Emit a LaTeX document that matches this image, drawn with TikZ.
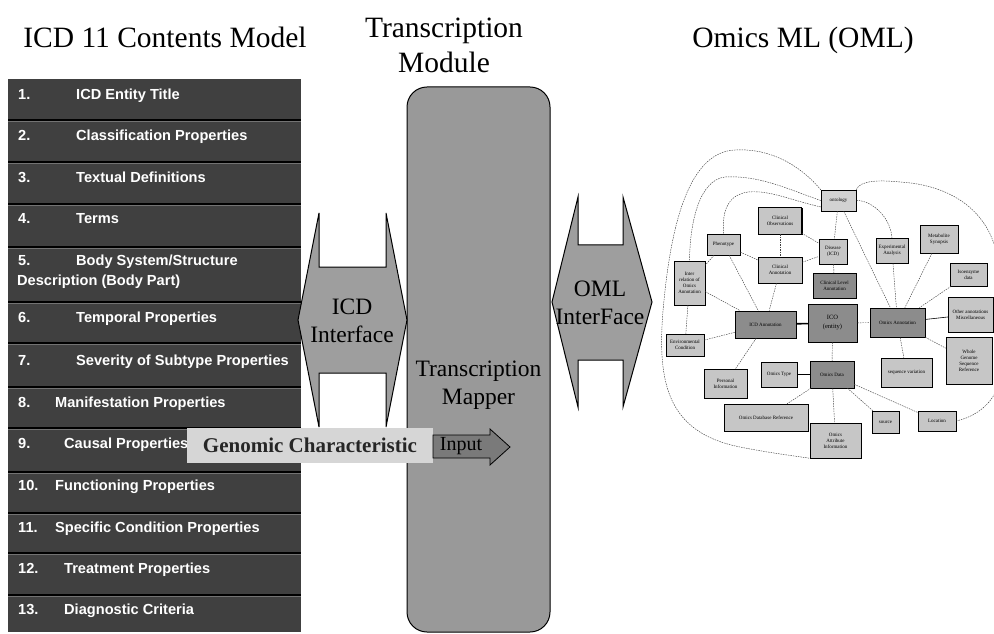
\documentclass[tikz,border=0pt]{standalone}
\usepackage{fontspec}
\setmainfont{Liberation Serif}
\newfontfamily\arialf{Liberation Sans}
\usetikzlibrary{shadows,fit,calc}
\begin{document}
\begin{tikzpicture}[x=1bp,y=-1bp,
  title/.style={font=\fontsize{29.5bp}{35bp}\selectfont, align=center, inner sep=0},
  itm/.style={anchor=base west, text=white, font=\arialf\bfseries\fontsize{14.6bp}{17bp}\selectfont, inner sep=0},
  sep/.style={draw=black, line width=2bp},
  bigtxt/.style={font=\fontsize{23.5bp}{28bp}\selectfont, align=center, inner sep=0},
  arrshape/.style={fill=black!38, draw=black, line width=1bp},
  nb/.style={draw=black, line width=0.5bp, fill=gray!45, font=\fontsize{5bp}{6bp}\selectfont, align=center, inner sep=0.5bp,
     drop shadow={shadow xshift=1.2bp, shadow yshift=-1.2bp, opacity=1, fill=black}},
  nd/.style={nb, fill=gray!90},
  frm/.style={draw=black, densely dotted, line width=0.6bp, inner sep=3.5bp, fill=white},
  cn/.style={draw=black!75, line width=0.45bp, dash pattern=on 1.5bp off 1bp},
  cs/.style={draw=black, line width=0.8bp}
]
\useasboundingbox (0,0) rectangle (994,634);

% titles
\node[title] (t1) at (165,37) {ICD 11 Contents Model};
\node[title] (t2) at (444,45) {Transcription\\Module};
\node[title] (t3) at (803,40) {Omics ML (OML)};

% ICD content column
\fill[black!75] (8,79) rectangle (301,632);
\foreach \y in {120,162,204,247,302,343,387,428,472,513,553,595}{
  \draw[black!55, line width=0.8bp] (8,\y+1.6) -- (301,\y+1.6);
  \draw[sep] (8,\y) -- (301,\y);
}
\foreach \i/\y/\tx/\t in {1/100/76/ICD Entity Title, 2/141/76/Classification Properties,
   3/183/76/Textual Definitions, 4/224/76/Terms, 6/322/76/Temporal Properties,
   7/365/76/Severity of Subtype Properties, 8/407/55/Manifestation Properties,
   9/448/64/Causal Properties, 10/490/55/Functioning Properties,
   11/532/55/Specific Condition Properties, 12/573/64/Treatment Properties,
   13/614/64/Diagnostic Criteria}{
  \node[itm] (num\i) at (18,\y) {\i.};
  \node[itm] (row\i) at (\tx,\y) {\t};
}
\node[itm] (num5) at (18,266) {5.};
\node[itm] (row5) at (76,266) {Body System/Structure};
\node[itm] (row5b) at (17,286) {Description (Body Part)};

% transcription mapper
\node[draw=black, line width=1bp, fill=black!40, rounded corners=20bp,
      minimum width=143bp, minimum height=545bp, inner sep=0] (map) at (478.5,359.5) {};
\node[bigtxt] (maptxt) at (478.5,385.5) {Transcription\\Mapper};

% ICD interface double arrow
\filldraw[arrshape] (298,320) -- (319,213) -- (319,267) -- (386,267) -- (386,213) -- (407,320)
   -- (386,427) -- (386,373) -- (319,373) -- (319,427) -- cycle;
\node[bigtxt] (icdi) at (352,321) {ICD\\Interface};

% OML interface double arrow
\filldraw[arrshape] (552,302) -- (578,197) -- (578,245) -- (623,245) -- (623,197) -- (652,302)
   -- (623,407) -- (623,360) -- (578,360) -- (578,407) -- cycle;
\node[bigtxt] (omli) at (600,303) {OML\\InterFace};

% genomic characteristic + input
\node[fill=black!16, minimum width=246bp, minimum height=35bp, inner sep=0,
      font=\bfseries\fontsize{21bp}{24bp}\selectfont, text=black!85] (gen) at (310,445.5) {Genomic Characteristic};
\filldraw[fill=black!52, draw=black, line width=0.8bp] (433,435) -- (490,435) -- (490,429) -- (510,447)
   -- (490,465) -- (490,458) -- (433,458) -- cycle;
\node[font=\fontsize{20bp}{24bp}\selectfont, inner sep=0] (inp) at (461,446) {Input};

% ---------------- Omics ML network ----------------
\node[nb, fill=gray!35, minimum width=35bp, minimum height=21bp] (top) at (838.5,200.5) {ontology};
\node[nb, minimum width=43bp, minimum height=27bp] (clobs) at (780,220.5) {Clinical\\Observations};
\node[nb, minimum width=33bp, minimum height=21bp] (pheno) at (723.5,244.5) {Phenotype};
\node[nb, minimum width=44bp, minimum height=26bp] (clann) at (780,270) {Clinical\\Annotation};
\node[nb, minimum width=31bp, minimum height=44bp] (inter) at (689.5,283) {Inter\\relation of\\Omics\\Annotation};
\node[nb, minimum width=28bp, minimum height=25bp] (dis) at (833,251.5) {Disease\\(ICD)};
\node[nb, minimum width=32bp, minimum height=25bp] (exp) at (892,250.5) {Experimental\\Analysis};
\node[nb, minimum width=38bp, minimum height=28bp] (meta) at (939,239) {Metabolite\\Synopsis};
\node[nb, minimum width=37bp, minimum height=23bp] (iso) at (968.5,274.5) {Isoenzyme\\data};
\node[nd, minimum width=43bp, minimum height=25bp] (cll) at (834.5,285.5) {Clinical Level\\Annotation};

\node[frm, minimum width=61bp, minimum height=27bp] (icdaf) at (765.5,324.5) {};
\node[nd, minimum width=61bp, minimum height=27bp] (icda) at (765.5,324.5) {ICD Annotation};
\node[nd, minimum width=49bp, minimum height=38bp, font=\fontsize{6.5bp}{9bp}\selectfont] (ico) at (832.5,323) {ICO\\(entity)};
\node[frm, minimum width=55bp, minimum height=29bp] (omaf) at (897.5,322.5) {};
\node[nd, minimum width=55bp, minimum height=29bp] (oma) at (897.5,322.5) {Omics Annotation};
\node[nb, minimum width=45bp, minimum height=35bp] (oth) at (970.5,314.5) {Other annotations\\Miscellaneous};
\node[nb, minimum width=46bp, minimum height=47bp] (wgs) at (969,360.5) {Whole\\Genome\\Sequence\\Reference};

\node[nb, minimum width=38bp, minimum height=22bp] (env) at (685,345) {Environmental\\Condition};
\node[nb, minimum width=43bp, minimum height=29bp] (pers) at (725.5,383.5) {Personal\\Information};
\node[nb, minimum width=36bp, minimum height=25bp] (otype) at (779,374.5) {Omics Type};
\node[nd, minimum width=44bp, minimum height=27bp] (odata) at (832,374.5) {Omics Data};
\node[nb, minimum width=51bp, minimum height=29bp] (seqv) at (906.5,372.5) {sequence variation};
\node[nb, minimum width=84bp, minimum height=27bp] (odb) at (766,417.5) {Omics Database Reference};
\node[nb, minimum width=51bp, minimum height=35bp] (attr) at (835.5,440.5) {Omics\\Attribute\\Information};
\node[nb, minimum width=27bp, minimum height=22bp] (src) at (885.5,422) {source};
\node[nb, minimum width=38bp, minimum height=20bp] (loc) at (937,421) {Location};

% curves
\draw[cn] (top.north west) .. controls (800,165) and (770,148) .. (735,150)
   .. controls (690,152) and (672,220) .. (664,300)
   .. controls (656,380) and (665,432) .. (740,447)
   .. controls (770,453) and (795,456) .. (attr.south west);
\draw[cn] (top.west) .. controls (790,190) and (760,175) .. (725,177)
   .. controls (700,180) and (690,220) .. (inter.north);
\draw[cn] (top.200) .. controls (790,200) and (770,190) .. (748,192)
   .. controls (728,195) and (722,210) .. (pheno.north);
\draw[cn] (top.north east) .. controls (860,180) and (880,180) .. (900,182)
   .. controls (950,185) and (990,210) .. (998,260)
   .. controls (1004,320) and (1002,380) .. (994,395)
   .. controls (985,410) and (970,418) .. (loc.east);
\draw[cn] (top.east) .. controls (870,200) and (890,215) .. (exp.north);

% straight connectors
\draw[cn] (pheno) -- (clann);
\draw[cn] (pheno) -- (inter);
\draw[cn] (pheno) -- (icdaf);
\draw[cn] (clobs) -- (clann);
\draw[cn] (clobs) -- (dis);
\draw[cn] (clann) -- (dis);
\draw[cn] (clann) -- (icdaf);
\draw[cn] (inter) -- (icdaf);
\draw[cn] (inter) -- (env);
\draw[cn] (env) -- (icdaf);
\draw[cn] (icdaf) -- (pers);
\draw[cn] (top) -- (dis);
\draw[cn] (top) -- (omaf);
\draw[cn] (dis) -- (cll);
\draw[cn] (exp) -- (omaf);
\draw[cn] (meta) -- (omaf);
\draw[cn] (iso) -- (omaf);
\draw[cs, line width=0.6bp] (omaf) -- (oth);
\draw[cn] (omaf) -- (wgs);
\draw[cn] (omaf) -- (seqv);
\draw[cs, line width=1.6bp] (icdaf) -- (ico);
\draw[cn] (ico) -- (omaf);
\draw[cn] (ico) -- (odata);
\draw[cs] (otype) -- (odata);
\draw[cn] (odata) -- (odb);
\draw[cn] (odata) -- (attr);
\draw[cn] (odata) -- (src);
\draw[cn] (odata) -- (loc);
\end{tikzpicture}
\end{document}
